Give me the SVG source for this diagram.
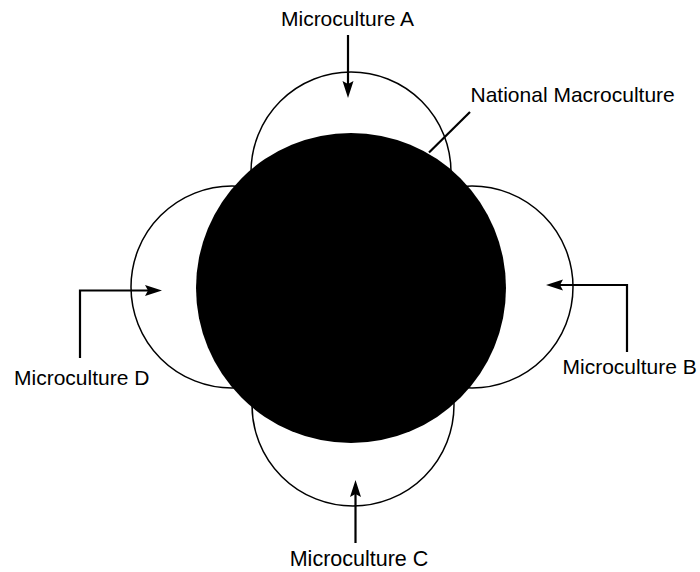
<svg xmlns="http://www.w3.org/2000/svg" width="700" height="572" viewBox="0 0 700 572">
<style>
.micro{fill:none;stroke:#000;stroke-width:1.5}
.conn{fill:none;stroke:#000;stroke-width:2.2}
.lbl{font-family:"Liberation Sans",Arial,sans-serif;font-size:21px;fill:#000}
</style>
<defs>
<marker id="ah" markerUnits="userSpaceOnUse" markerWidth="18" markerHeight="12" refX="3" refY="5.5" orient="auto" viewBox="0 0 18 11">
<path d="M0,0 L17,5.5 L0,11 L3,5.5 z" fill="#000"/>
</marker>
</defs>
<rect width="700" height="572" fill="#fff"/>
<g id="microA"><circle class="micro" cx="351" cy="172" r="100"/><text class="lbl" x="347.5" y="26" text-anchor="middle">Microculture A</text></g>
<g id="microB"><circle class="micro" cx="472" cy="287" r="101"/><text class="lbl" x="562.5" y="374">Microculture B</text></g>
<g id="microC"><circle class="micro" cx="353" cy="405" r="101"/><text class="lbl" x="359" y="566" text-anchor="middle" style="font-size:21.5px">Microculture C</text></g>
<g id="microD"><circle class="micro" cx="232" cy="287" r="101"/><text class="lbl" x="14" y="385">Microculture D</text></g>
<g id="macro"><circle cx="351" cy="288" r="155" fill="#000"/><text class="lbl" x="470.5" y="102">National Macroculture</text></g>
<g id="connectors">
<path class="conn" d="M348,35 V84" marker-end="url(#ah)"/>
<path class="conn" d="M627,352 V285 H560" marker-end="url(#ah)"/>
<path class="conn" d="M355.5,543 V494" marker-end="url(#ah)"/>
<path class="conn" d="M80,358 V290.5 H148" marker-end="url(#ah)"/>
<path class="conn" d="M470,112 L429,152.5"/>
</g>
</svg>
